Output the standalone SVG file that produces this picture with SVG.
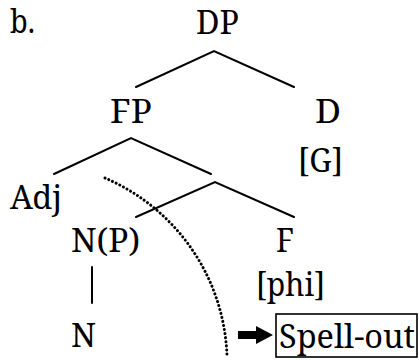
<svg xmlns="http://www.w3.org/2000/svg" width="419" height="360" viewBox="0 0 419 360">
<style>
.t{font-family:'Noto Serif','DejaVu Serif','Liberation Serif',serif;font-size:32px;fill:#000}
.e{stroke:#000;stroke-width:2;fill:none;stroke-linecap:round}
.dot{stroke:#000;stroke-width:3;fill:none;stroke-dasharray:0.1 4;stroke-linecap:round}
</style>
<rect width="419" height="360" fill="#fff"/>
<g class="t">
<text x="10" y="33" textLength="25" lengthAdjust="spacingAndGlyphs">b.</text>
<g id="DP"><text x="196" y="34" textLength="43" lengthAdjust="spacingAndGlyphs">DP</text></g>
<g id="FP"><text x="110" y="123" textLength="42" lengthAdjust="spacingAndGlyphs">FP</text></g>
<g id="D"><text x="315" y="123" textLength="26" lengthAdjust="spacingAndGlyphs">D</text><text x="298" y="172" textLength="45" lengthAdjust="spacingAndGlyphs">[G]</text></g>
<g id="Adj"><text x="10" y="209" textLength="52" lengthAdjust="spacingAndGlyphs">Adj</text></g>
<g id="NP"><text x="71" y="252" textLength="69" lengthAdjust="spacingAndGlyphs">N(P)</text></g>
<g id="F"><text x="276" y="252" textLength="18" lengthAdjust="spacingAndGlyphs">F</text><text x="256" y="296" textLength="69" lengthAdjust="spacingAndGlyphs">[phi]</text></g>
<g id="N"><text x="71" y="347" textLength="25" lengthAdjust="spacingAndGlyphs">N</text></g>
<g id="spellout">
<path d="M238,331 H256 V326 L273,335 L256,344 V339 H238 Z" fill="#000"/>
<rect x="276" y="314" width="141" height="43" fill="none" stroke="#000" stroke-width="1.6"/>
<text x="279" y="348" textLength="136" lengthAdjust="spacingAndGlyphs">Spell-out</text>
</g>
</g>
<g id="connectors">
<path class="e" d="M136,87 L214,51 L294,87"/>
<path class="e" d="M54,174 L131,138 L211,174"/>
<path class="e" d="M136,217 L215,182 L294,217"/>
<path class="e" d="M92,267 V303"/>
<path class="dot" d="M105,178 A201,201 0 0 1 227,357"/>
</g>
</svg>
